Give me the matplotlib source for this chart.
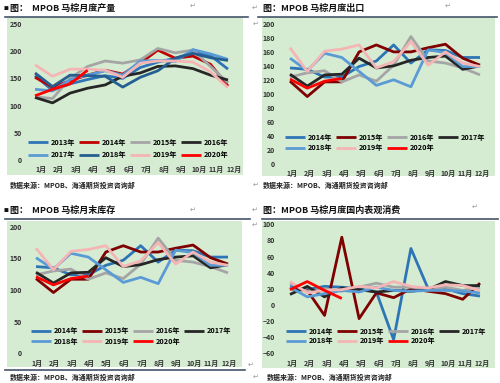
import numpy as np
import matplotlib.pyplot as plt
from matplotlib.patches import Rectangle
from matplotlib.lines import Line2D
from matplotlib.transforms import ScaledTranslation

plt.rcParams['font.family'] = ['Noto Sans CJK SC', 'DejaVu Sans']
plt.rcParams['font.weight'] = 'bold'

W, H = 500, 383
months = ['1月', '2月', '3月', '4月', '5月', '6月', '7月', '8月', '9月', '10月', '11月', '12月']

# MPOB monthly production (万吨)
prod_years = ['2013年', '2014年', '2015年', '2016年', '2017年', '2018年', '2019年', '2020年']
prod_2013 = [155, 128, 140, 148, 155, 150, 170, 180, 187, 198, 192, 167]
prod_2014 = [152, 134, 146, 156, 165, 158, 178, 202, 187, 191, 176, 136]
prod_2015 = [116, 113, 150, 172, 182, 178, 184, 205, 197, 202, 172, 142]
prod_2016 = [115, 105, 123, 132, 138, 154, 160, 172, 173, 168, 156, 147]
prod_2017 = [130, 127, 148, 156, 164, 156, 182, 183, 181, 203, 195, 185]
prod_2018 = [160, 135, 156, 155, 154, 134, 152, 164, 187, 196, 188, 183]
prod_2019 = [175, 154, 167, 167, 165, 152, 178, 182, 182, 180, 162, 133]
prod_2020 = [118, 130, 140, 165]

# MPOB monthly exports (the stock panel in the report shows the same lines)
exp_years = ['2014年', '2015年', '2016年', '2017年', '2018年', '2019年', '2020年']
exp_2014 = [137, 135, 124, 124, 139, 147, 170, 144, 163, 162, 152, 152]
exp_2015 = [118, 96, 117, 117, 160, 170, 160, 160, 166, 171, 151, 141]
exp_2016 = [124, 130, 133, 117, 127, 118, 141, 182, 147, 144, 137, 127]
exp_2017 = [128, 111, 127, 128, 151, 137, 140, 148, 152, 154, 135, 140]
exp_2018 = [151, 133, 158, 152, 132, 112, 120, 110, 163, 159, 139, 139]
exp_2019 = [166, 132, 161, 164, 170, 137, 146, 175, 141, 160, 144, 139]
exp_2020 = [121, 108, 118, 122]

# MPOB apparent domestic consumption
cons_2014 = [23, 19, 23, 22, 20, 16, -43, 70, 20, 20, 14, 11]
cons_2015 = [20, 18, -13, 84, -17, 15, 9, 20, 17, 14, 7, 27]
cons_2016 = [27, 17, 20, 17, 22, 27, 22, 22, 20, 22, 18, 22]
cons_2017 = [13, 23, 10, 21, 19, 16, 18, 17, 19, 29, 24, 24]
cons_2018 = [22, 10, 14, 18, 16, 22, 18, 17, 18, 18, 17, 15]
cons_2019 = [29, 15, 18, 19, 23, 21, 29, 23, 21, 25, 24, 18]
cons_2020 = [19, 29, 18, 8]

prod_colors = ['#2e75b6', '#c00000', '#a5a5a5', '#262626', '#5b9bd5', '#255e91', '#f5b5b5', '#ff0000']
exp_colors = ['#2e75b6', '#7f0000', '#a5a5a5', '#262626', '#5b9bd5', '#f5b5b5', '#ff0000']
green = '#d5ecd2'
rule = '#44546a'
src = '数据来源：MPOB、海通期货投资咨询部'

fig = plt.figure(figsize=(W / 100, H / 100), dpi=100)


def frac(x0, y0, x1, y1):
    return [x0 / W, 1 - y1 / H, (x1 - x0) / W, (y1 - y0) / H]


def hline(x0, x1, y):
    fig.add_artist(Line2D([x0 / W, x1 / W], [1 - y / H, 1 - y / H], color=rule, lw=1.2,
                          transform=fig.transFigure))


def text(x, y, s, size, **kw):
    fig.text(x / W, 1 - y / H, s, fontsize=size, va='center', **kw)


def panel(title, tx, ty, bg, xa, xb, ybot, ytop, ylim, yticks, series, years, colors,
          ypad, xshift, leg_c, leg_sp, src_y, rule_x, bullet=False):
    fig.add_artist(Rectangle((bg[0] / W, 1 - bg[3] / H), (bg[2] - bg[0]) / W, (bg[3] - bg[1]) / H,
                             transform=fig.transFigure, facecolor=green, edgecolor='none', zorder=0))
    if bullet:
        text(tx, ty, '■', 3.5, color='#111111')
        tx += 6
    text(tx, ty, title, 6.5, color='#111111')
    hline(rule_x[0], rule_x[1], ty + 9)
    text(rule_x[0] + 5, src_y, src, 5, color='#222222')
    ax = fig.add_axes(frac(xa, ytop, xb, ybot))
    ax.patch.set_visible(False)
    x = np.arange(1, 13)
    handles = []
    for vals, c in zip(series, colors):
        h, = ax.plot(x[:len(vals)], vals, color=c, lw=2.0, clip_on=False, solid_capstyle='butt')
        handles.append(h)
    ax.set_xlim(1, 12)
    ax.set_ylim(*ylim)
    ax.set_yticks(yticks)
    ax.set_xticks(x)
    ax.set_xticklabels(months)
    for s in ax.spines.values():
        s.set_visible(False)
    ax.tick_params(length=0, labelsize=5, colors='#333333')
    ax.tick_params(axis='y', pad=ypad)
    ax.tick_params(axis='x', pad=4.5)
    off = ScaledTranslation(xshift / 100, 0, fig.dpi_scale_trans)
    for lab in ax.get_xticklabels():
        lab.set_transform(lab.get_transform() + off)
    # row-major order for a 4-column legend
    n = len(handles)
    order = [0, 4, 1, 5, 2, 6, 3, 7] if n == 8 else [0, 4, 1, 5, 2, 6, 3]
    ax.legend([handles[i] for i in order], [years[i] for i in order], ncol=4, loc='center',
              bbox_to_anchor=(leg_c[0] / W, 1 - leg_c[1] / H), bbox_transform=fig.transFigure,
              frameon=False, fontsize=5.2, handlelength=2.8, handletextpad=0.35,
              columnspacing=0.5, labelspacing=leg_sp, borderpad=0)
    return ax


panel('图：  MPOB 马棕月度产量', 4, 8, (7, 17, 243, 175), 35, 228, 160, 24, (0, 250),
      range(0, 251, 50),
      [prod_2013, prod_2014, prod_2015, prod_2016, prod_2017, prod_2018, prod_2019, prod_2020],
      prod_years, prod_colors, 9.5, 6, (128, 148.5), 0.8, 185, (5, 248), bullet=True)

exp_series = [exp_2014, exp_2015, exp_2016, exp_2017, exp_2018, exp_2019, exp_2020]
panel('图：MPOB 马棕月度出口', 263, 8, (262, 17, 495, 176), 290, 480, 163.5, 24, (0, 200),
      range(0, 201, 20), exp_series, exp_years, exp_colors, 11, 2.5, (385, 142.5), 0.5, 185,
      (258, 497))

panel('图：  MPOB 马棕月末库存', 4, 210, (7, 221, 242, 367), 36, 228, 353.3, 226.7, (0, 200),
      range(0, 201, 50), exp_series, exp_years, exp_colors, 10, 1, (131, 336), 0.5, 377,
      (5, 250), bullet=True)
hline(5, 245, 370)

panel('图：MPOB 马棕月度国内表观消费', 263, 210, (262, 221, 495, 368), 290, 480, 353.3, 224.3,
      (-60, 100), range(-60, 101, 20),
      [cons_2014, cons_2015, cons_2016, cons_2017, cons_2018, cons_2019, cons_2020],
      exp_years, exp_colors, 11, 2.5, (386, 336), 0.4, 377, (262, 498))

# paragraph marks left by the word processor
for px, py in [(190, 6), (252, 8), (445, 6), (253, 24), (253, 185), (190, 210), (252, 210),
               (472, 207), (252, 225), (248, 365), (253, 377)]:
    text(px, py, '↵', 5, color='#999999', family='DejaVu Sans', fontweight='normal')

fig.savefig('out.png', dpi=100)
